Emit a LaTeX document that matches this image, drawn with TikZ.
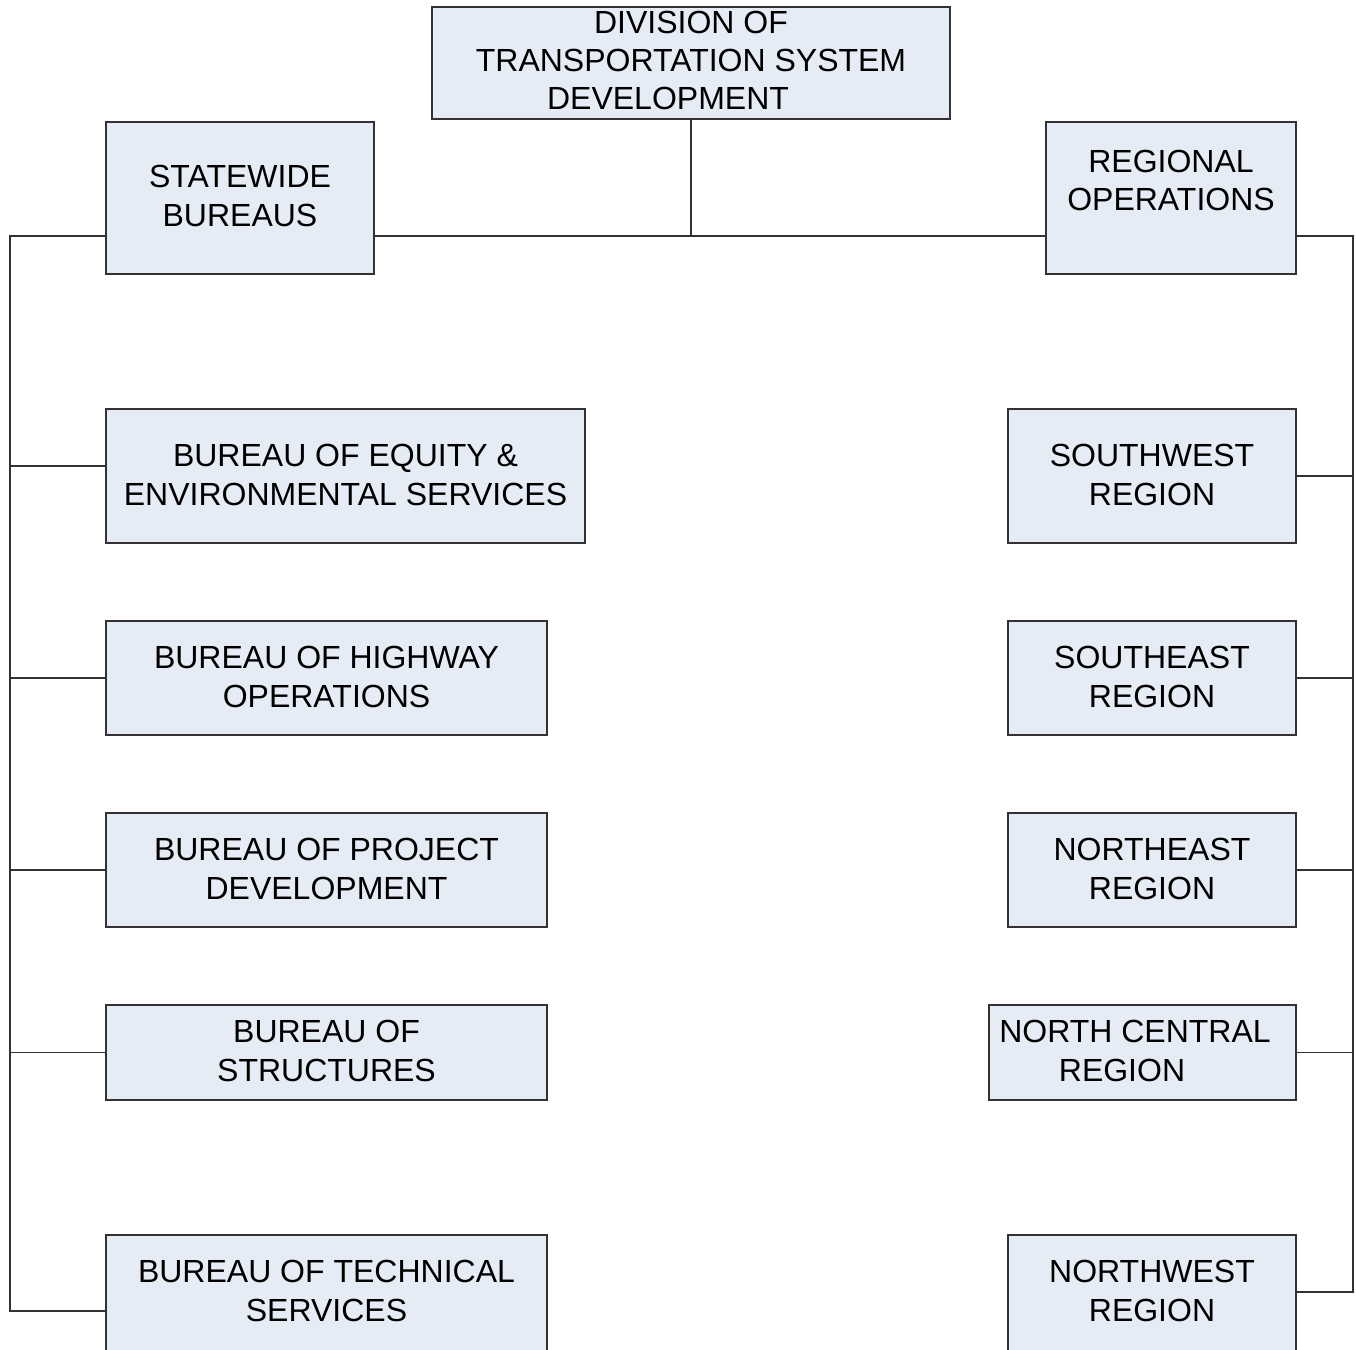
\documentclass[tikz,border=0pt]{standalone}
\usepackage{fontspec}
\setmainfont{Liberation Sans}
\definecolor{boxfill}{RGB}{230,236,246}
\definecolor{edge}{RGB}{50,50,50}
\begin{document}
\begin{tikzpicture}[x=1pt,y=-1pt,
  box/.style={draw=edge,line width=1.1pt,fill=boxfill,inner sep=0pt,rectangle},
  txt/.style={align=center,inner sep=0pt,font=\fontsize{32}{38.4}\selectfont},
  conn/.style={draw=edge,line width=1.1pt}]
\useasboundingbox (0,0) rectangle (1356,1349);
\clip (0,0) rectangle (1356,1349);
% boxes
\node[box,minimum width=518pt,minimum height=112pt] (top) at (691,63) {};
\node[box,minimum width=268pt,minimum height=152pt] (stw) at (240,198) {};
\node[box,minimum width=250pt,minimum height=152pt] (reg) at (1171,198) {};
\node[box,minimum width=479pt,minimum height=134pt] (eq) at (345.5,476) {};
\node[box,minimum width=441pt,minimum height=114pt] (hw) at (326.5,678) {};
\node[box,minimum width=441pt,minimum height=114pt] (pd) at (326.5,870) {};
\node[box,minimum width=441pt,minimum height=95pt] (st) at (326.5,1052.5) {};
\node[box,minimum width=441pt,minimum height=130pt] (ts) at (326.5,1300) {};
\node[box,minimum width=288pt,minimum height=134pt] (sw) at (1152,476) {};
\node[box,minimum width=288pt,minimum height=114pt] (se) at (1152,678) {};
\node[box,minimum width=288pt,minimum height=114pt] (ne) at (1152,870) {};
\node[box,minimum width=307pt,minimum height=95pt] (nc) at (1142.5,1052.5) {};
\node[box,minimum width=288pt,minimum height=130pt] (nw) at (1152,1300) {};
% texts
\node[txt] (topT) at (691,60.5) {DIVISION OF\\TRANSPORTATION SYSTEM\\DEVELOPMENT\hspace*{46pt}};
\node[txt] (stwT) at (240,196) {STATEWIDE\\BUREAUS};
\node[txt] (regT) at (1171,180.5) {REGIONAL\\OPERATIONS};
\node[txt] (eqT) at (345.5,475) {BUREAU OF EQUITY \&\\ENVIRONMENTAL SERVICES};
\node[txt] (hwT) at (326.5,677) {BUREAU OF HIGHWAY\\OPERATIONS};
\node[txt] (pdT) at (326.5,869) {BUREAU OF PROJECT\\DEVELOPMENT};
\node[txt] (stT) at (326.5,1051) {BUREAU OF\\STRUCTURES};
\node[txt] (tsT) at (326.5,1291) {BUREAU OF TECHNICAL\\SERVICES};
\node[txt] (swT) at (1152,475) {SOUTHWEST\\REGION};
\node[txt] (seT) at (1152,677) {SOUTHEAST\\REGION};
\node[txt] (neT) at (1152,869) {NORTHEAST\\REGION};
\node[txt] (ncT) at (1135,1051) {NORTH CENTRAL\\REGION\hspace*{26pt}};
\node[txt] (nwT) at (1152,1291) {NORTHWEST\\REGION};
% connector coordinates
\coordinate (hub) at (691,236);
\coordinate (lt) at (10,236);
\coordinate (lb) at (10,1311);
\coordinate (rt) at (1353,236);
\coordinate (rb) at (1353,1292);
% connectors
\draw[conn] (top.south) -- (hub);
\draw[conn] (stw.east |- hub) -- (reg.west |- hub);
\draw[conn] (stw.west |- lt) -- (lt) -- (lb) -- (ts.west |- lb);
\draw[conn] (reg.east |- rt) -- (rt) -- (rb) -- (nw.east |- rb);
\draw[conn] ([yshift=10pt]eq.west) -- ([yshift=10pt]eq.west -| lt);
\draw[conn] (hw.west) -- (hw.west -| lt);
\draw[conn] (pd.west) -- (pd.west -| lt);
\draw[conn] (st.west) -- (st.west -| lt);
\draw[conn] (sw.east) -- (sw.east -| rt);
\draw[conn] (se.east) -- (se.east -| rt);
\draw[conn] (ne.east) -- (ne.east -| rt);
\draw[conn] (nc.east) -- (nc.east -| rt);
\end{tikzpicture}
\end{document}
